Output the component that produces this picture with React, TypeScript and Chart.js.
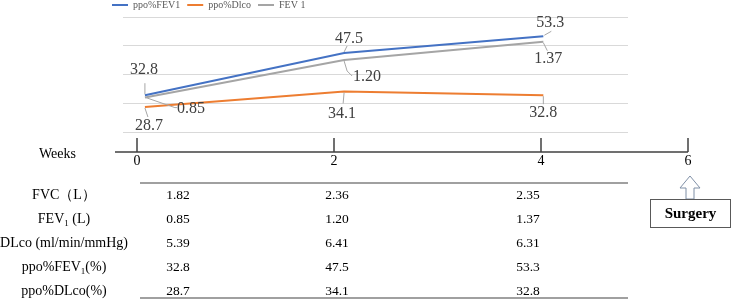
import React, { useEffect, useRef } from "react";
import { Chart, registerables } from "chart.js";

Chart.register(...registerables);

// ---- data ----
const weeks = [0, 2, 4];
const weekAxisLabels = ["0", "2", "4", "6"];
const seriesNames = ["ppo%FEV1", "ppo%Dlco", "FEV 1"];
const ppoFEV1 = [32.8, 47.5, 53.3];
const ppoDLco = [28.7, 34.1, 32.8];
const fev1 = [0.85, 1.2, 1.37];
const fvc = [1.82, 2.36, 2.35];
const dlco = [5.39, 6.41, 6.31];
const rowLabels = [
  ["FVC（L）"],
  ["FEV", "1", " (L)"],
  ["DLco (ml/min/mmHg)"],
  ["ppo%FEV", "1", "(%)"],
  ["ppo%DLco(%)"],
];
const tableRows = [
  { values: fvc, decimals: 2 },
  { values: fev1, decimals: 2 },
  { values: dlco, decimals: 2 },
  { values: ppoFEV1, decimals: 1 },
  { values: ppoDLco, decimals: 1 },
];
const surgeryLabel = "Surgery";
const weeksTitle = "Weeks";

// ---- layout / style (not data) ----
const FONT = "'Liberation Serif', 'Times New Roman', serif";
const COLORS = ["#4472C4", "#ED7D31", "#A5A5A5"];
const labelPlacement = [
  [
    { dx: -1, dy: -25, leader: [[0, -1], [0, -12]] },
    { dx: 5, dy: -14, leader: [[0, -1], [3, -7]] },
    { dx: 7, dy: -13, leader: [[1, -1], [8, -5]] },
  ],
  [
    { dx: 4, dy: 19, leader: [[0, 1], [3, 10]] },
    { dx: -2, dy: 22, leader: [[0, 1], [-1, 12]] },
    { dx: 0, dy: 18, leader: [[0, 1], [0, 9]] },
  ],
  [
    { dx: 46, dy: 11, leader: [[1, 0], [30, 10], [32, 10]] },
    { dx: 23, dy: 17, leader: [[0, 1], [3, 11], [8, 16]] },
    { dx: 5, dy: 17, leader: [[0, 1], [4, 9]] },
  ],
];
const weekTickX = [137, 334, 541, 688];
const columnCenters = [178, 337, 528];
const rowTop = 195;
const rowStep = 24;

const calloutPlugin = {
  id: "callouts",
  afterDatasetsDraw(chart: any) {
    const ctx = chart.ctx;
    ctx.save();
    chart.data.datasets.forEach((ds: any, i: number) => {
      const meta = chart.getDatasetMeta(i);
      meta.data.forEach((pt: any, j: number) => {
        const p = labelPlacement[i][j];
        const x = pt.x;
        const y = pt.y;
        ctx.strokeStyle = "#a6a6a6";
        ctx.lineWidth = 1;
        ctx.beginPath();
        p.leader.forEach((q: number[], k: number) => {
          if (k === 0) ctx.moveTo(x + q[0], y + q[1]);
          else ctx.lineTo(x + q[0], y + q[1]);
        });
        ctx.stroke();
        ctx.fillStyle = "#404040";
        ctx.font = `16px ${FONT}`;
        ctx.textAlign = "center";
        ctx.textBaseline = "middle";
        ctx.fillText(ds.data[j].y.toFixed(ds.labelDecimals), x + p.dx, y + p.dy);
      });
    });
    ctx.restore();
  },
};

function LineChart() {
  const ref = useRef<HTMLCanvasElement | null>(null);
  useEffect(() => {
    if (!ref.current) return;
    const mk = (vals: number[]) => weeks.map((w, j) => ({ x: w, y: vals[j] }));
    const ds = (i: number, vals: number[], axis: string, dec: number) =>
      ({
        label: seriesNames[i],
        data: mk(vals),
        borderColor: COLORS[i],
        backgroundColor: COLORS[i],
        pointBorderColor: COLORS[i],
        pointBackgroundColor: COLORS[i],
        pointBorderWidth: 2,
        yAxisID: axis,
        labelDecimals: dec,
      } as any);
    const chart = new Chart(ref.current, {
      type: "line",
      data: {
        datasets: [ds(0, ppoFEV1, "y", 1), ds(1, ppoDLco, "y", 1), ds(2, fev1, "y2", 2)],
      },
      options: {
        animation: false,
        responsive: false,
        maintainAspectRatio: false,
        layout: { padding: { left: 105, right: 104, top: -7, bottom: 8 } },
        elements: {
          line: { borderWidth: 2, tension: 0 },
          point: { radius: 0, hoverRadius: 0 },
        },
        plugins: {
          legend: {
            display: true,
            position: "top",
            align: "start",
            maxHeight: 24,
            labels: {
              usePointStyle: true,
              pointStyle: "line",
              pointStyleWidth: 16,
              padding: 7,
              color: "#595959",
              font: { family: FONT, size: 10 },
            },
          } as any,
          tooltip: { enabled: false },
        },
        scales: {
          x: { type: "linear", min: -0.22, max: 4.85, display: false },
          y: {
            type: "linear",
            min: 20,
            max: 60,
            ticks: { display: false, stepSize: 10 },
            grid: { color: "#d9d9d9", lineWidth: 1, drawTicks: false },
            border: { display: false },
            afterFit: (s: any) => {
              s.width = 18;
            },
          },
          y2: { type: "linear", min: 0.53, max: 1.6, display: false, position: "right" },
        },
      },
      plugins: [calloutPlugin],
    });
    return () => chart.destroy();
  }, []);
  return <canvas ref={ref} width={732} height={140} style={{ position: "absolute", left: 0, top: 0, width: 732, height: 140 }} />;
}

function Label({ parts }: { parts: string[] }) {
  return (
    <span>
      {parts[0]}
      {parts.length > 1 ? <sub style={{ fontSize: 9, verticalAlign: "-3px", lineHeight: 0 }}>{parts[1]}</sub> : null}
      {parts.length > 2 ? parts[2] : null}
    </span>
  );
}

export default function App() {
  return (
    <div style={{ position: "absolute", left: 0, top: 0, width: 732, height: 300, background: "#fff", fontFamily: FONT, color: "#000", overflow: "hidden" }}>
      <LineChart />
      <svg width={732} height={300} style={{ position: "absolute", left: 0, top: 0 }}>
        <line x1={115} y1={152} x2={weekTickX[weekTickX.length - 1]} y2={152} stroke="#404040" strokeWidth={1.5} />
        {weekTickX.map((x, i) => (
          <line key={i} x1={x} y1={138} x2={x} y2={152} stroke="#404040" strokeWidth={1.5} />
        ))}
        <line x1={140} y1={183} x2={628} y2={183} stroke="#808080" strokeWidth={1.5} />
        <line x1={140} y1={298} x2={628} y2={298} stroke="#808080" strokeWidth={1.5} />
        <path d="M680,188 L690,176 L700,188 L694,188 L694,199 L686,199 L686,188 Z" fill="#fff" stroke="#7f8fa6" strokeWidth={1} />
        <rect x={650.5} y={199.5} width={80} height={28} fill="#fff" stroke="#595959" strokeWidth={1} />
      </svg>
      <div style={{ position: "absolute", left: 30, top: 145, width: 55, textAlign: "center", fontSize: 14, lineHeight: "18px" }}>{weeksTitle}</div>
      {weekAxisLabels.map((t, i) => (
        <div key={i} style={{ position: "absolute", left: weekTickX[i] - 15, top: 152, width: 30, textAlign: "center", fontSize: 14, lineHeight: "18px" }}>{t}</div>
      ))}
      {rowLabels.map((parts, r) => (
        <div key={r} style={{ position: "absolute", left: 0, top: rowTop + r * rowStep - 9, width: 128, textAlign: "center", fontSize: 14, lineHeight: "18px", whiteSpace: "nowrap" }}>
          <Label parts={parts} />
        </div>
      ))}
      {tableRows.map((row, r) =>
        row.values.map((v, c) => (
          <div key={`${r}-${c}`} style={{ position: "absolute", left: columnCenters[c] - 30, top: rowTop + r * rowStep - 9, width: 60, textAlign: "center", fontSize: 13.5, lineHeight: "18px" }}>
            {v.toFixed(row.decimals)}
          </div>
        ))
      )}
      <div style={{ position: "absolute", left: 650, top: 204, width: 81, textAlign: "center", fontSize: 15, fontWeight: "bold", lineHeight: "18px" }}>{surgeryLabel}</div>
    </div>
  );
}
